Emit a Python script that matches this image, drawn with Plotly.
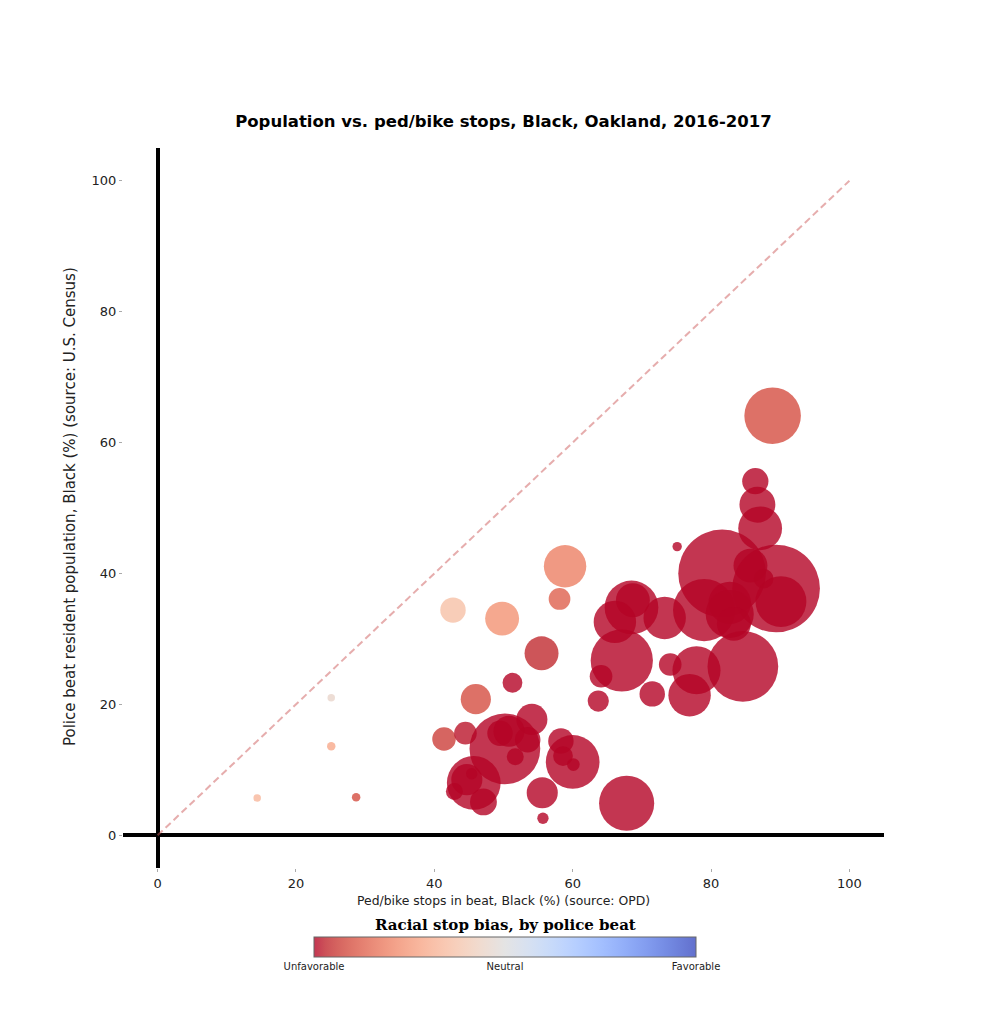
import plotly.graph_objects as go

# ---- data ----
stops_pct = [88.9, 86.4, 86.7, 87.1, 75.1, 58.9, 81.6, 85.7, 87.6, 89.4,
             90.1, 68.5, 68.7, 66.1, 73.3, 79.0, 82.7, 82.7, 83.3, 67.1,
             64.1, 74.1, 77.9, 84.6, 71.5, 76.9, 63.7, 55.5, 51.3, 46.0,
             54.1, 41.4, 44.5, 50.2, 49.5, 50.8, 53.5, 51.7, 58.3, 60.0,
             58.6, 60.1, 45.7, 44.7, 45.4, 42.9, 47.1, 55.6, 55.7, 67.8,
             42.7, 49.8, 58.1, 25.1, 25.1, 14.4, 28.7]
pop_pct = [64.1, 54.1, 50.5, 46.9, 44.1, 41.1, 40.0, 41.2, 39.2, 37.7,
           35.7, 34.8, 35.9, 32.6, 33.2, 34.4, 35.5, 33.8, 32.3, 26.7,
           24.3, 26.1, 25.2, 25.8, 21.6, 21.4, 20.5, 27.8, 23.3, 20.8,
           17.7, 14.7, 15.6, 13.2, 15.6, 15.9, 14.6, 12.0, 14.4, 11.2,
           12.1, 10.8, 8.0, 8.5, 9.4, 6.7, 5.1, 6.5, 2.6, 4.9,
           34.4, 33.1, 36.1, 21.0, 13.6, 5.7, 5.8]
n_stops = [400, 86, 161, 240, 11, 225, 961, 144, 49, 961,
           324, 361, 144, 225, 225, 484, 225, 289, 144, 484,
           64, 64, 289, 625, 81, 225, 56, 144, 49, 114,
           121, 69, 64, 625, 81, 121, 81, 36, 81, 361,
           49, 20, 361, 121, 16, 36, 90, 121, 16, 380,
           81, 144, 59, 7, 9, 7, 9]
bias = [-0.82, -1, -1, -1, -1, -0.62, -1, -1, -1, -1,
        -1, -1, -1, -1, -1, -1, -1, -1, -1, -1,
        -1, -1, -1, -1, -1, -1, -1, -0.93, -1, -0.82,
        -1, -0.87, -0.97, -1, -1, -1, -1, -1, -1, -1,
        -1, -1, -1, -1, -1, -1, -1, -1, -1, -1,
        -0.28, -0.54, -0.75, -0.1, -0.42, -0.34, -0.82]
parity = [0, 100]
bias_ticks = [-1, 0, 1]
bias_labels = ["Unfavorable", "Neutral", "Favorable"]

# reversed coolwarm (red = unfavorable, blue = favorable), alpha 0.8
coolwarm = [(59, 76, 192), (68, 90, 204), (77, 104, 215), (87, 117, 225), (98, 130, 234),
            (108, 142, 241), (119, 154, 247), (130, 165, 251), (141, 176, 254), (152, 185, 255),
            (163, 194, 255), (174, 201, 253), (184, 208, 249), (194, 213, 244), (204, 217, 238),
            (213, 219, 230), (221, 221, 221), (229, 216, 209), (236, 211, 197), (241, 204, 184),
            (245, 196, 172), (247, 187, 160), (247, 177, 148), (247, 166, 135), (244, 154, 123),
            (241, 141, 111), (236, 127, 99), (229, 112, 88), (222, 96, 77), (213, 80, 66),
            (203, 62, 56), (192, 40, 47), (180, 4, 38)]
rev = coolwarm[::-1]
n = len(rev) - 1
cscale = [[i / n, "rgba(%d,%d,%d,0.8)" % c] for i, c in enumerate(rev)]

font = "DejaVu Sans"
fig = go.Figure()
fig.add_trace(go.Scatter(x=parity, y=parity, mode="lines",
                         line=dict(color="rgba(205,92,92,0.5)", width=2, dash="7px,4px"),
                         hoverinfo="skip", showlegend=False))
fig.add_trace(go.Scatter(
    x=stops_pct, y=pop_pct, mode="markers", showlegend=False,
    marker=dict(size=n_stops, sizemode="area", sizeref=0.25, sizemin=1, opacity=1,
                color=bias, colorscale=cscale, cmin=-1, cmax=1,
                line=dict(width=0),
                colorbar=dict(orientation="h", x=0.502, xanchor="center",
                              y=-0.0958, yanchor="top", ypad=0, xpad=0,
                              lenmode="pixels", len=382, thickness=20,
                              tickvals=bias_ticks, ticktext=bias_labels,
                              ticks="", tickfont=dict(family=font, size=10, color="#222"),
                              outlinecolor="#666", outlinewidth=1))))

fig.update_layout(
    width=984, height=1024,
    margin=dict(l=123, r=100, t=148, b=156),
    paper_bgcolor="white", plot_bgcolor="white",
    font=dict(family=font, color="#222"),
    title=dict(text="Population vs. ped/bike stops, Black, Oakland, 2016-2017",
               font=dict(family=font, size=16.5, color="black", weight="bold"),
               x=0.5116, xanchor="center", y=1 - 121 / 1024, yanchor="middle"),
    xaxis=dict(range=[-5, 105], tickvals=[0, 20, 40, 60, 80, 100], showgrid=False,
               zeroline=True, zerolinecolor="black", zerolinewidth=4, showline=False,
               ticks="outside", ticklen=3, tickcolor="#aaa", tickwidth=1,
               tickfont=dict(family=font, size=13, color="#222")),
    yaxis=dict(range=[-5, 105], tickvals=[0, 20, 40, 60, 80, 100], showgrid=False,
               zeroline=True, zerolinecolor="black", zerolinewidth=4, showline=False,
               ticks="outside", ticklen=3, tickcolor="#aaa", tickwidth=1,
               tickfont=dict(family=font, size=13, color="#222")),
    annotations=[
        dict(text="Ped/bike stops in beat, Black (%) (source: OPD)", xref="paper", yref="paper",
             x=0.5, y=(868 - 900) / 720, xanchor="center", yanchor="middle", showarrow=False,
             font=dict(family=font, size=12.4, color="#222")),
        dict(text="Police beat resident population, Black (%) (source: U.S. Census)",
             xref="paper", yref="paper", x=(70 - 123) / 761, y=(868 - 507) / 720,
             xanchor="center", yanchor="middle", textangle=-90, showarrow=False,
             font=dict(family=font, size=15, color="#222")),
        dict(text="<b>Racial stop bias, by police beat</b>", xref="paper", yref="paper",
             x=(505 - 123) / 761, y=(868 - 925) / 720, xanchor="center", yanchor="middle",
             showarrow=False, font=dict(family="DejaVu Serif", size=15, color="black")),
    ],
)
fig.write_html("out.html")
